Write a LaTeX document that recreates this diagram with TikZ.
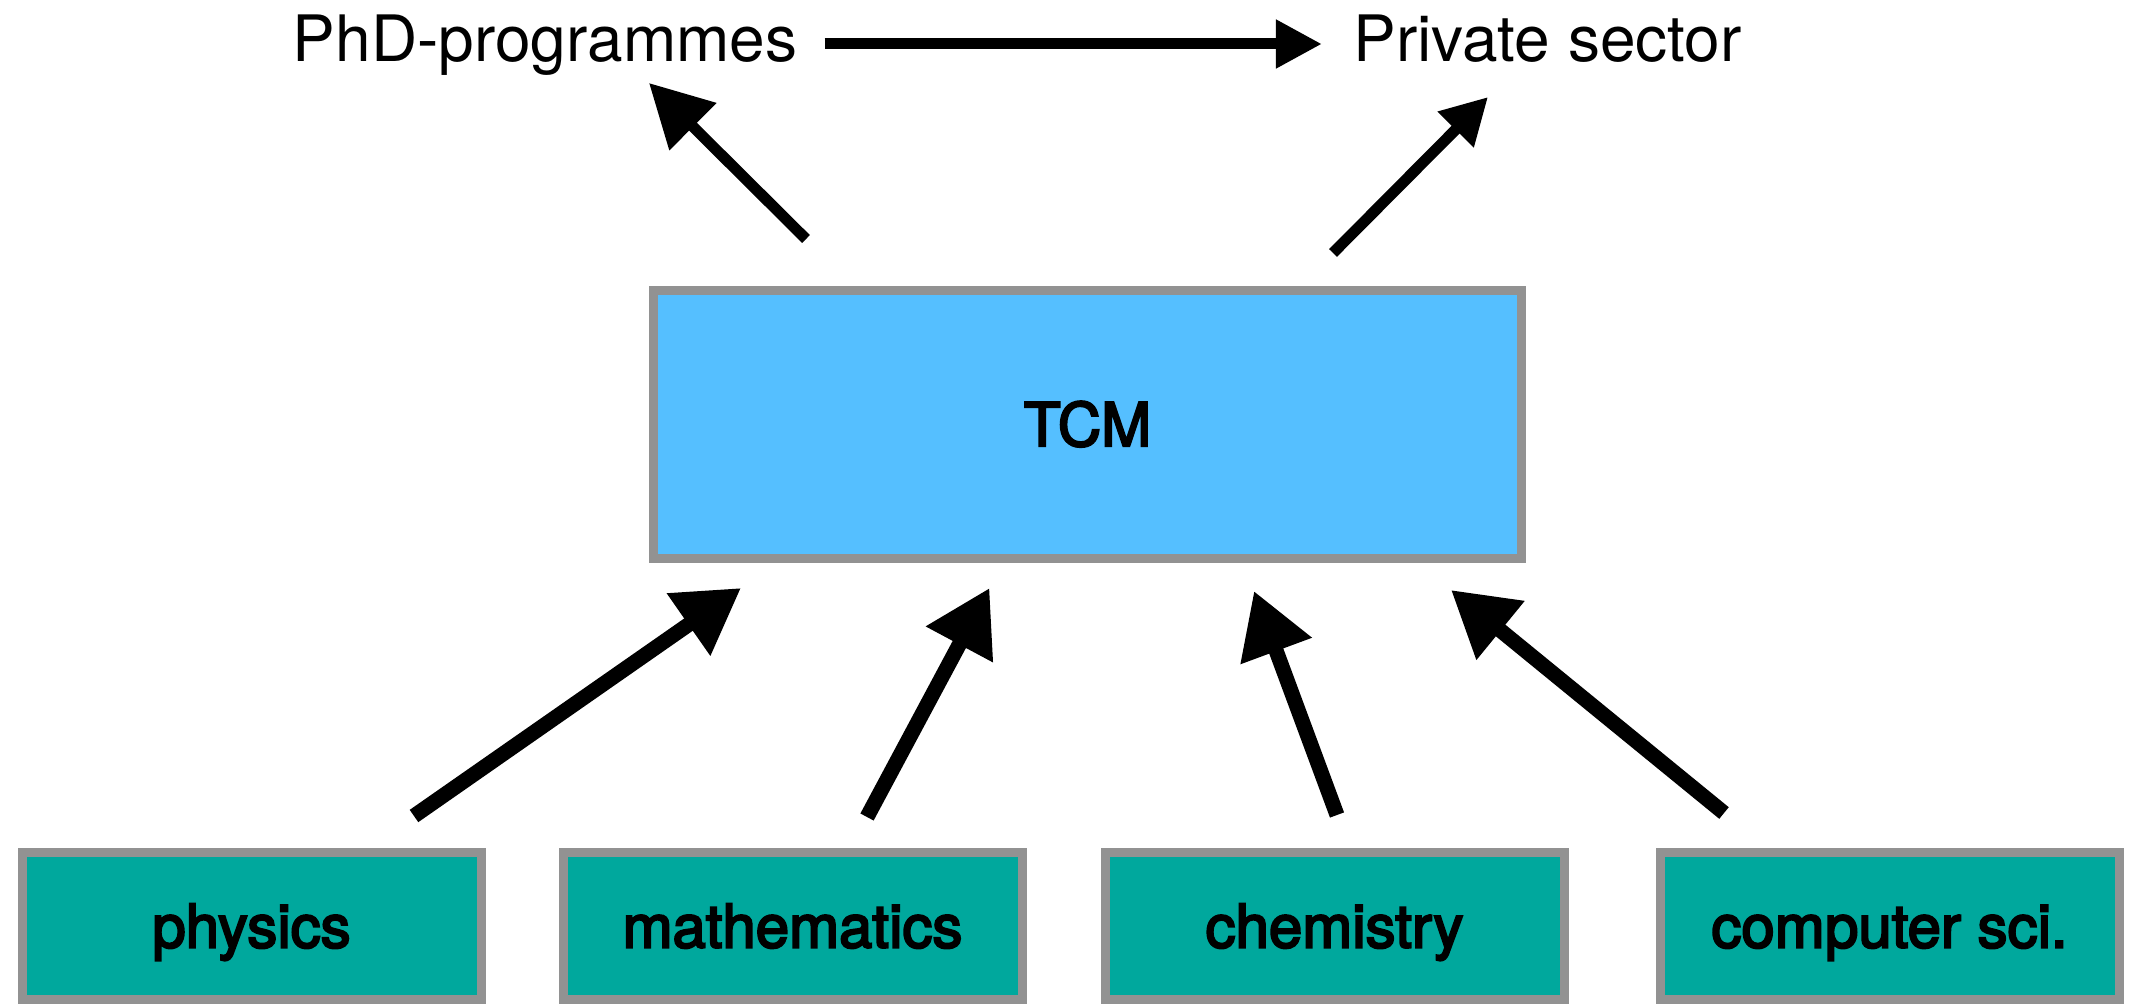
\documentclass[tikz,border=0pt]{standalone}
\usepackage{fontspec}
\setmainfont{TeX Gyre Heros}
\newfontfamily\medfont[FakeBold=3.5]{TeX Gyre Heros}
\usetikzlibrary{arrows.meta,positioning}
\definecolor{tcmblue}{HTML}{55BFFF}
\definecolor{fieldteal}{HTML}{00A89D}
\definecolor{boxgray}{HTML}{929292}

\begin{document}
\begin{tikzpicture}[x=0.5pt,y=-0.5pt,
  outlet/.style={font=\fontsize{32}{38}\selectfont, anchor=base, inner sep=0pt},
  field/.style={draw=boxgray, line width=4.5pt, fill=fieldteal, minimum width=229.5pt, minimum height=73.5pt,
    font=\medfont\fontsize{30}{36}\selectfont, text height=21.5pt, text depth=0pt, inner sep=0pt},
  feed/.style={line width=7.5pt, -{Triangle[length=32pt,width=36pt]}},
  flow/.style={line width=5.5pt, -{Triangle[length=23pt,width=23pt]}}]
\useasboundingbox (0,0) rectangle (2135,1005);
\node (tcm) [draw=boxgray, line width=4.5pt, fill=tcmblue, minimum width=434pt, minimum height=134pt,
  font=\medfont\fontsize{30}{36}\selectfont, text height=21.5pt, text depth=0pt, inner sep=0pt] at (1087.5,424.5) {TCM};
\node (phys) [field] at (251.5,926) {physics};
\node (math) [field] at (792.5,926) {mathematics};
\node (chem) [field] at (1334.5,926) {chemistry};
\node (cs)   [field] at (1889.5,926) {computer sci.};
\node (phd)  [outlet] at (545,62) {PhD-programmes};
\node (priv) [outlet] at (1547.5,62) {Private sector};
% arrow ends
\coordinate (phd-in)   at (649,83);
\coordinate (tcm-up1)  at (806,239);
\coordinate (priv-in)  at (1488,97);
\coordinate (tcm-up2)  at (1333,253);
\coordinate (phys-out) at (414,816);
\coordinate (math-out) at (867,817);
\coordinate (chem-out) at (1337,815);
\coordinate (cs-out)   at (1724,813);
\coordinate (tcm-in1)  at (741,588);
\coordinate (tcm-in2)  at (989.5,588);
\coordinate (tcm-in3)  at (1254,591);
\coordinate (tcm-in4)  at (1451,590);
\draw[flow] ([xshift=13.5pt,yshift=9pt]phd.base east) -- ([xshift=-15.5pt,yshift=9pt]priv.base west);
\draw[flow, -{Triangle[length=31pt,width=32pt]}] (tcm-up1) -- (phd-in);
\draw[flow, -{Triangle[length=23pt,width=24pt]}] (tcm-up2) -- (priv-in);
\draw[feed] (phys-out) -- (tcm-in1);
\draw[feed] (math-out) -- (tcm-in2);
\draw[feed] (chem-out) -- (tcm-in3);
\draw[feed] (cs-out) -- (tcm-in4);
\end{tikzpicture}
\end{document}
